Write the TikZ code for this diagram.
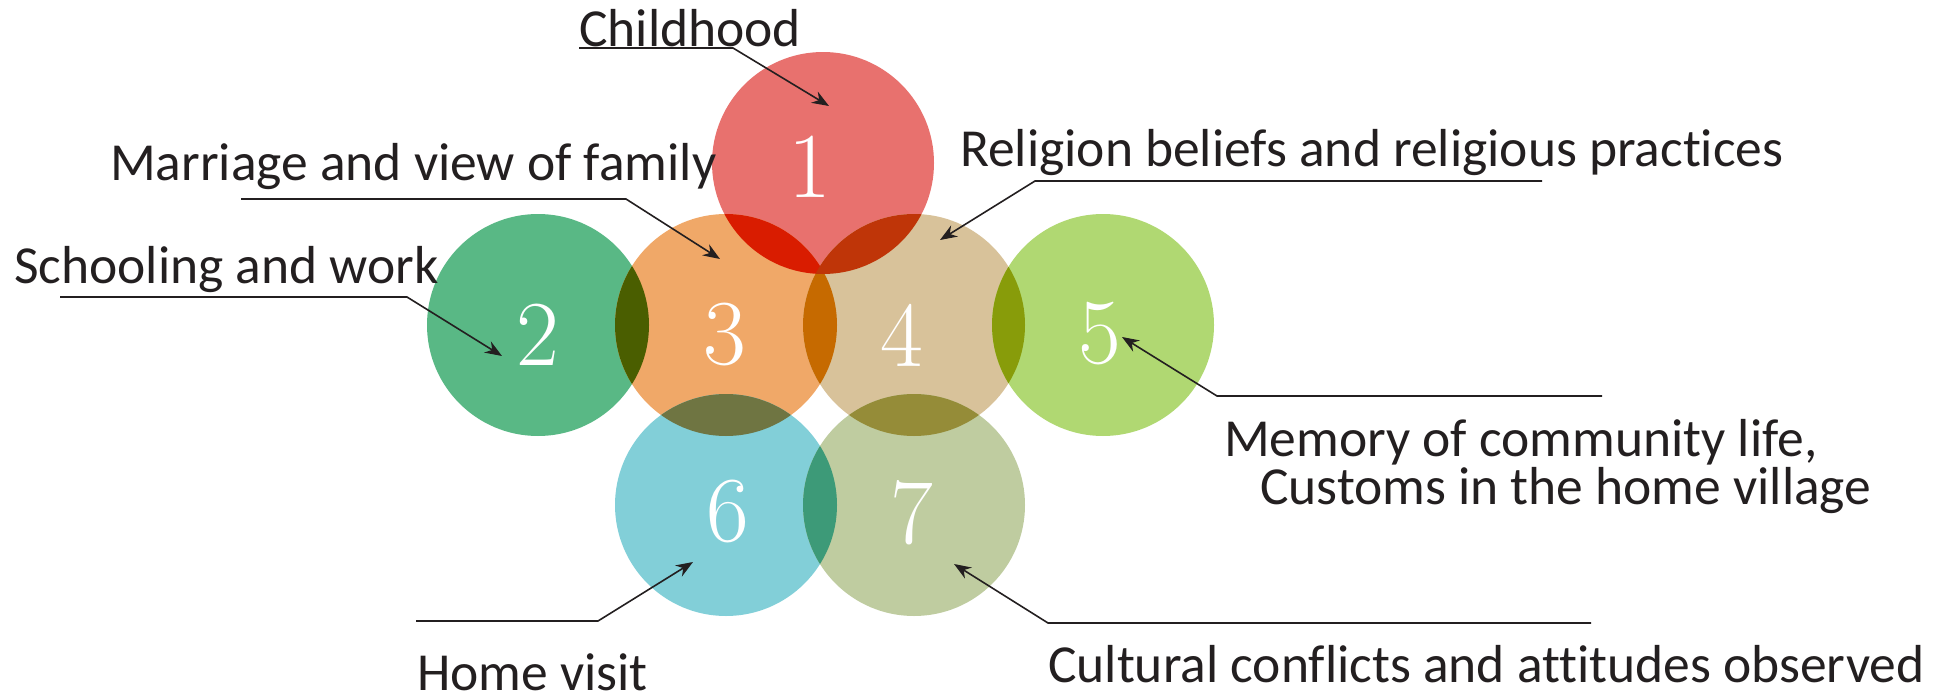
\documentclass[tikz,border=0pt]{standalone}
\usepackage{fontspec}
\newfontfamily\lblfont[Ligatures=NoCommon]{Carlito}
\usetikzlibrary{arrows.meta}

% circle fills
\definecolor{cA}{HTML}{E8716E}
\definecolor{cB}{HTML}{59B885}
\definecolor{cC}{HTML}{F0A868}
\definecolor{cD}{HTML}{D8C29A}
\definecolor{cE}{HTML}{B0D872}
\definecolor{cF}{HTML}{82CFD8}
\definecolor{cG}{HTML}{BFCCA0}
% lens fills where two circles meet
\definecolor{oAC}{HTML}{D91C00}
\definecolor{oAD}{HTML}{BF3508}
\definecolor{oBC}{HTML}{4A5E00}
\definecolor{oCD}{HTML}{C66A00}
\definecolor{oDE}{HTML}{889C0A}
\definecolor{oCF}{HTML}{6F7542}
\definecolor{oDG}{HTML}{958C38}
\definecolor{oFG}{HTML}{3D9A78}
\definecolor{ink}{HTML}{231F20}

\begin{document}
\begin{tikzpicture}[x=1pt,y=-1pt,
  lbl/.style={anchor=base west, inner sep=0pt, font=\lblfont\fontsize{53.5}{62}\selectfont, text=ink},
  num/.style={anchor=center, inner sep=0pt, font=\fontsize{93}{93}\selectfont, text=white},
  leader/.style={draw=ink, line width=1.6pt, line join=miter, -{Stealth[length=17pt,width=13pt]}}]
\useasboundingbox (0,0) rectangle (1936,696);

\def\R{111}
% circle centres
\coordinate (c1) at (823,163);
\coordinate (c2) at (538,325);
\coordinate (c3) at (726,325);
\coordinate (c4) at (914,325);
\coordinate (c5) at (1103,325);
\coordinate (c6) at (726,505);
\coordinate (c7) at (914,505);

% discs
\fill[cA] (c1) circle (\R);
\fill[cB] (c2) circle (\R);
\fill[cC] (c3) circle (\R);
\fill[cD] (c4) circle (\R);
\fill[cE] (c5) circle (\R);
\fill[cF] (c6) circle (\R);
\fill[cG] (c7) circle (\R);

% lenses
\begin{scope}\clip (c2) circle (\R); \fill[oBC] (c3) circle (\R);\end{scope}
\begin{scope}\clip (c3) circle (\R); \fill[oCD] (c4) circle (\R);\end{scope}
\begin{scope}\clip (c4) circle (\R); \fill[oDE] (c5) circle (\R);\end{scope}
\begin{scope}\clip (c3) circle (\R); \fill[oCF] (c6) circle (\R);\end{scope}
\begin{scope}\clip (c4) circle (\R); \fill[oDG] (c7) circle (\R);\end{scope}
\begin{scope}\clip (c6) circle (\R); \fill[oFG] (c7) circle (\R);\end{scope}
\begin{scope}\clip (c1) circle (\R); \fill[oAC] (c3) circle (\R);\end{scope}
\begin{scope}\clip (c1) circle (\R); \fill[oAD] (c4) circle (\R);\end{scope}

% numbers
\node[num] (n1) at (810,167) {1};
\node[num] (n2) at (538,335) {2};
\node[num] (n3) at (725,335) {3};
\node[num] (n4) at (902,335) {4};
\node[num] (n5) at (1100,334) {5};
\node[num] (n6) at (728,512) {6};
\node[num] (n7) at (912,513) {7};

% labels
\node[lbl] (tChild) at (579,46) {Childhood};
\node[lbl] (tMarr) at (110,180) {Marriage and view of family};
\node[lbl] (tSchool) at (14,283) {Schooling and work};
\node[lbl] (tRelig) at (960,166) {Religion beliefs and religious practices};
\node[lbl] (tMem) at (1224,456) {Memory of community life,};
\node[lbl] (tCust) at (1260,504) {Customs in the home village};
\node[lbl] (tHome) at (417,690) {Home visit};
\node[lbl] (tCult) at (1048,682) {Cultural conflicts and attitudes observed};

% leader line corners and tips
\coordinate (a1) at (579,48);  \coordinate (b1) at (733,48);  \coordinate (p1) at (829,106);
\coordinate (a2) at (241,199); \coordinate (b2) at (626,199); \coordinate (p2) at (720,259);
\coordinate (a3) at (60,297);  \coordinate (b3) at (407,297); \coordinate (p3) at (502,356);
\coordinate (a4) at (1542,181);\coordinate (b4) at (1035,181);\coordinate (p4) at (940,240);
\coordinate (a5) at (1602,396);\coordinate (b5) at (1217,396);\coordinate (p5) at (1122,337);
\coordinate (a6) at (416,621); \coordinate (b6) at (598,621); \coordinate (p6) at (693,562);
\coordinate (a7) at (1591,623);\coordinate (b7) at (1048,623);\coordinate (p7) at (954,564);

\draw[leader] (a1) -- (b1) -- (p1);
\draw[leader] (a2) -- (b2) -- (p2);
\draw[leader] (a3) -- (b3) -- (p3);
\draw[leader] (a4) -- (b4) -- (p4);
\draw[leader] (a5) -- (b5) -- (p5);
\draw[leader] (a6) -- (b6) -- (p6);
\draw[leader] (a7) -- (b7) -- (p7);
\end{tikzpicture}
\end{document}
